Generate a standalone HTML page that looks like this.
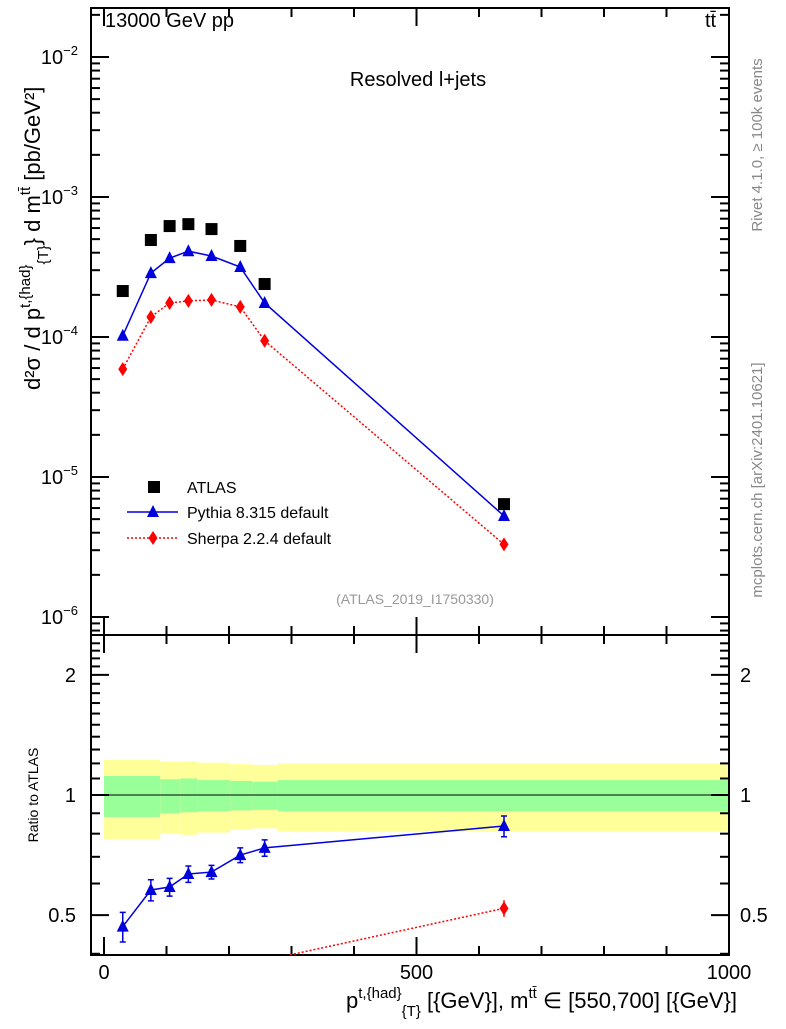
<!DOCTYPE html>
<html><head><meta charset="utf-8"><style>
body{margin:0;background:#fff;}
svg text{font-family:"Liberation Sans",Arial,sans-serif;}
</style></head><body>
<svg id="c" width="786" height="1024" viewBox="0 0 786 1024" xmlns="http://www.w3.org/2000/svg">
<text x="105" y="27" font-size="20">13000 GeV pp</text>
<text x="705" y="27" font-size="20">tt̄</text>
<text x="418" y="86" font-size="20" text-anchor="middle">Resolved l+jets</text>
<text x="415" y="604" font-size="14" fill="#999" text-anchor="middle">(ATLAS_2019_I1750330)</text>
<text transform="translate(762,145) rotate(-90)" font-size="15" fill="#888" text-anchor="middle">Rivet 4.1.0, ≥ 100k events</text>
<text transform="translate(762,480) rotate(-90)" font-size="15" fill="#888" text-anchor="middle">mcplots.cern.ch [arXiv:2401.10621]</text>
<text transform="translate(40,390) rotate(-90)" font-size="22" text-anchor="start">d²σ / d p<tspan font-size="15" dy="-10">t,{had}</tspan><tspan font-size="15" dy="18">{T}</tspan><tspan dy="-8">} d m</tspan><tspan font-size="15" dy="-10">tt̄</tspan><tspan dy="10"> [pb/GeV²]</tspan></text>
<text transform="translate(38,795) rotate(-90)" font-size="14" text-anchor="middle">Ratio to ATLAS</text>
<text x="737" y="1008" font-size="22" text-anchor="end">p<tspan font-size="15" dy="-10">t,{had}</tspan><tspan font-size="15" dy="18">{T}</tspan><tspan dy="-8"> [{GeV}], m</tspan><tspan font-size="15" dy="-10">tt̄</tspan><tspan dy="10"> ∈ [550,700] [{GeV}]</tspan></text>
<g id="g"></g>
</svg>
<script>
const xs=[30,75,105,135,172,218,257,640];
const atlas=[2.13e-4,4.93e-4,6.2e-4,6.4e-4,5.9e-4,4.47e-4,2.39e-4,6.4e-6];
const pythia=[1.02e-4,2.86e-4,3.66e-4,4.1e-4,3.79e-4,3.16e-4,1.75e-4,5.27e-6];
const sherpa=[5.9e-5,1.39e-4,1.75e-4,1.81e-4,1.84e-4,1.64e-4,9.4e-5,3.3e-6];
const pyRatio=[0.468,0.578,0.588,0.634,0.641,0.707,0.737,0.836];
const pyRatioErr=[0.04,0.035,0.03,0.03,0.025,0.03,0.035,0.05];
const shRatio=[0.28,0.28,0.28,0.28,0.31,0.37,0.385,0.52];
const bandEdges=[0,90,122,150,202,237,278,1000];
const yelHi=[1.224,1.21,1.214,1.205,1.195,1.19,1.20];
const yelLo=[0.776,0.80,0.795,0.805,0.82,0.825,0.81];
const grnHi=[1.116,1.095,1.10,1.09,1.085,1.08,1.09];
const grnLo=[0.881,0.90,0.905,0.91,0.915,0.918,0.91];
const xTicks=[0,500,1000];
const yTicks=[-6,-5,-4,-3,-2];
const rTicks=[0.5,1,2];

const L=91,R=729,T=8,M=635,B=955;
const X=v=>104+v*0.625;
const Y=v=>337-(Math.log10(v)+4)*140;
const RY=v=>795-Math.log10(v)*399;
const g=document.getElementById('g');
const NS='http://www.w3.org/2000/svg';
function el(t,a,p){const e=document.createElementNS(NS,t);for(const k in a)e.setAttribute(k,a[k]);(p||g).appendChild(e);return e;}

for(let i=0;i<bandEdges.length-1;i++){
 const x0=X(bandEdges[i]),x1=X(bandEdges[i+1]);
 const y=el('rect',{x:x0,y:RY(yelHi[i]),width:x1-x0,height:RY(yelLo[i])-RY(yelHi[i]),fill:'#ffff99'});
 
 
 const gr=el('rect',{x:x0,y:RY(grnHi[i]),width:x1-x0,height:RY(grnLo[i])-RY(grnHi[i]),fill:'#99ff99'});
 
 
}
const one=el('line',{x1:X(0),x2:R,y1:RY(1),y2:RY(1),stroke:'#000','stroke-width':1});



const f1=el('rect',{x:L,y:T,width:R-L,height:M-T,fill:'none',stroke:'#000','stroke-width':2});


const f2=el('rect',{x:L,y:M,width:R-L,height:B-M,fill:'none',stroke:'#000','stroke-width':2});



for(let v=0;v<=1000;v+=100){
 const maj=v%500==0, len=maj?18:9;
 [[T,1],[M,-1],[M,1],[B,-1]].forEach(([y0,d])=>{
  const t=el('line',{x1:X(v),x2:X(v),y1:y0,y2:y0+d*len,stroke:'#000','stroke-width':2});
  
  
 });
}
xTicks.forEach(v=>{const t=el('text',{x:X(v),y:979,'font-size':20,'text-anchor':'middle'});t.textContent=v;
 
 });

for(let e=-7;e<=-2;e++)for(let m=1;m<10;m++){
 const v=m*Math.pow(10,e),y=Y(v);if(y<T||y>M)continue;
 const len=m==1?18:9;
 [[L,1],[R,-1]].forEach(([x0,d])=>{
  const t=el('line',{x1:x0,x2:x0+d*len,y1:y,y2:y,stroke:'#000','stroke-width':2});
  
  
 });
}
yTicks.forEach(e=>{const t=el('text',{x:78,y:Y(Math.pow(10,e))+7,'font-size':20,'text-anchor':'end'});
 t.innerHTML='10<tspan font-size="13" dy="-9">'+(e<0?'−':'')+Math.abs(e)+'</tspan>';
 
 });

for(let v=0.4;v<=2.5;v+=0.1){
 const y=RY(v);if(y<M+1||y>B-1)continue;
 const r=Math.round(v*10)/10;const maj=(r==0.5||r==1||r==2);
 [[L,1],[R,-1]].forEach(([x0,d])=>{
  const t=el('line',{x1:x0,x2:x0+d*(maj?18:9),y1:y,y2:y,stroke:'#000','stroke-width':2});
  
  
 });
}
rTicks.forEach(v=>{[[76,'end'],[740,'start']].forEach(([x,a])=>{
 const t=el('text',{x:x,y:RY(v)+7,'font-size':20,'text-anchor':a});t.textContent=v;
 
 });});

function tri(x,y,c,name,p){const q=el('polygon',{points:`${x},${y-7} ${x-6},${y+5} ${x+6},${y+5}`,fill:c},p);
 }
function dia(x,y,c,name,p){const q=el('polygon',{points:`${x},${y-7} ${x-4.5},${y} ${x},${y+7} ${x+4.5},${y}`,fill:c},p);
 }

const pl=el('polyline',{points:xs.map((x,i)=>X(x)+','+Y(pythia[i])).join(' '),fill:'none',stroke:'#0000dd','stroke-width':1.5});

const sl=el('polyline',{points:xs.map((x,i)=>X(x)+','+Y(sherpa[i])).join(' '),fill:'none',stroke:'#ff0000','stroke-width':1.5,'stroke-dasharray':'2,2'});

xs.forEach((x,i)=>{
 const r=el('rect',{x:X(x)-6,y:Y(atlas[i])-6,width:12,height:12,fill:'#000'});
 
 tri(X(x),Y(pythia[i]),'#0000dd','pythia-point');
 dia(X(x),Y(sherpa[i]),'#ff0000','sherpa-point');
});

const cp=document.createElementNS(NS,'clipPath');cp.setAttribute('id','rc');g.appendChild(cp);
el('rect',{x:L,y:M,width:R-L,height:B-M},cp);
const rg=el('g',{'clip-path':'url(#rc)'});
const rl=el('polyline',{points:xs.map((x,i)=>X(x)+','+RY(pyRatio[i])).join(' '),fill:'none',stroke:'#0000dd','stroke-width':1.5},rg);

const rs=el('polyline',{points:xs.map((x,i)=>X(x)+','+RY(shRatio[i])).join(' '),fill:'none',stroke:'#ff0000','stroke-width':1.5,'stroke-dasharray':'2,2'},rg);

xs.forEach((x,i)=>{
 const cx=X(x),y1=RY(pyRatio[i]+pyRatioErr[i]),y2=RY(pyRatio[i]-pyRatioErr[i]);
 const e=el('path',{d:`M${cx},${y1}V${y2}M${cx-3},${y1}H${cx+3}M${cx-3},${y2}H${cx+3}`,stroke:'#0000dd','stroke-width':1.5,fill:'none'},rg);
 
 tri(cx,RY(pyRatio[i]),'#0000dd','pythia-ratio-point',rg);
});
const li=xs.length-1,sx=X(xs[li]);
const se=el('path',{d:`M${sx},${RY(shRatio[li]+0.025)}V${RY(shRatio[li]-0.025)}`,stroke:'#ff0000','stroke-width':1.5});

dia(sx,RY(shRatio[li]),'#ff0000','sherpa-ratio-point');

const lg=[['ATLAS',487],['Pythia 8.315 default',512],['Sherpa 2.2.4 default',538]];
const r0=el('rect',{x:148,y:481,width:12,height:12,fill:'#000'});
const l1=el('line',{x1:127,x2:178,y1:512,y2:512,stroke:'#0000dd','stroke-width':1.5});
tri(153,512,'#0000dd','legend-pythia-marker');
const l2=el('line',{x1:127,x2:178,y1:538,y2:538,stroke:'#ff0000','stroke-width':1.5,'stroke-dasharray':'2,2'});
dia(153,538,'#ff0000','legend-sherpa-marker');
lg.forEach(([s,y])=>{const t=el('text',{x:187,y:y+6,'font-size':16});t.textContent=s;
 });
</script>
</body></html>
